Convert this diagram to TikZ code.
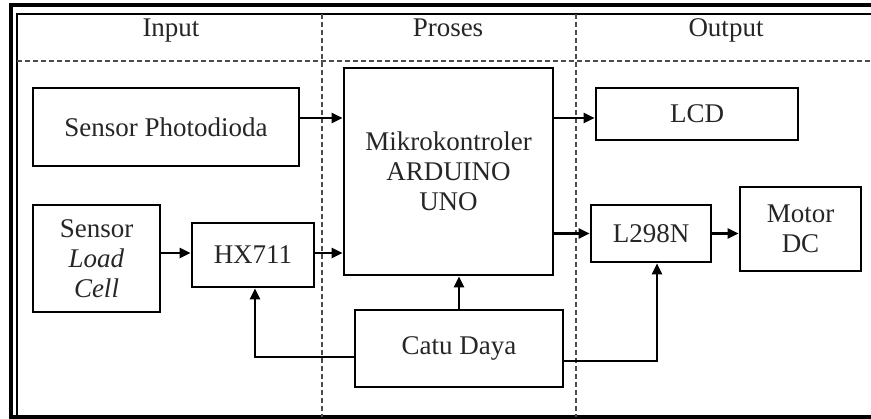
\documentclass[tikz,border=0pt]{standalone}
\usepackage{fontspec}
\setmainfont{Liberation Serif}
\usetikzlibrary{arrows.meta,calc}
\begin{document}
\begin{tikzpicture}[x=1pt,y=-1pt,
  box/.style={draw=black,line width=2.6pt,inner sep=0pt,align=center,
    font=\fontsize{27}{30}\selectfont,text=black!85},
  hdr/.style={anchor=base,inner sep=0pt,font=\fontsize{27}{30}\selectfont,text=black!85},
  arr/.style={line width=2.4pt,-{Triangle[length=11pt,width=10pt]}},
  sep/.style={line width=1.3pt,draw=black!70,dash pattern=on 5pt off 3pt}]
\useasboundingbox (0,0) rectangle (871,419);
\begin{scope}
\clip (0,0) rectangle (871,419);
% frame
\draw[line width=4pt] (880,5) -- (11,5) -- (11,417) -- (880,417);
\draw[line width=1.5pt] (880,14) -- (17,14) -- (17,420);
% separators
\draw[sep] (17,61) -- (880,61);
\draw[sep] (322,14) -- (322,417);
\draw[sep] (576,14) -- (576,417);
\end{scope}
% headers
\node[hdr] (hin) at (171,37) {Input};
\node[hdr] (hpr) at (448,37) {Proses};
\node[hdr] (hout) at (726,37) {Output};
% boxes
\node[box,minimum width=266pt,minimum height=78pt] (photo) at (166,127) {Sensor Photodioda};
\node[box,minimum width=209pt,minimum height=207pt] (mcu) at (448.5,171.5) {Mikrokontroler\\ARDUINO\\UNO};
\node[box,minimum width=202pt,minimum height=52pt] (lcd) at (697,114) {LCD};
\node[box,minimum width=127pt,minimum height=107pt] (load) at (96.5,258.5) {Sensor\\\textit{Load}\\\textit{Cell}};
\node[box,minimum width=122pt,minimum height=64pt] (hx) at (253,255) {HX711};
\node[box,minimum width=208pt,minimum height=77pt] (catu) at (459,348.5) {Catu Daya};
\node[box,minimum width=120pt,minimum height=57pt] (l298) at (651,233.5) {L298N};
\node[box,minimum width=121pt,minimum height=84pt] (motor) at (800.5,229) {Motor\\DC};
% connectors
\coordinate (p1) at ([yshift=9pt]photo.east);
\draw[arr] (p1) -- (mcu.west |- p1);
\draw[arr] (mcu.east |- p1) -- (lcd.west |- p1);
\coordinate (p2) at ([yshift=2pt]hx.west);
\draw[arr] (load.east |- p2) -- (p2);
\draw[arr] (hx.east |- p2) -- (mcu.west |- p2);
\draw[arr] (mcu.east |- l298.west) -- (l298.west);
\draw[arr] (l298.east) -- (motor.west |- l298.east);
\draw[arr] (catu.north) -- (catu.north |- mcu.south);
\coordinate (hxs) at ([xshift=2pt]hx.south);
\coordinate (ls) at ([xshift=6pt]l298.south);
\draw[arr] ([yshift=-8.5pt]catu.west) -| (hxs);
\draw[arr] ([yshift=-12.5pt]catu.east) -| (ls);
\end{tikzpicture}
\end{document}
